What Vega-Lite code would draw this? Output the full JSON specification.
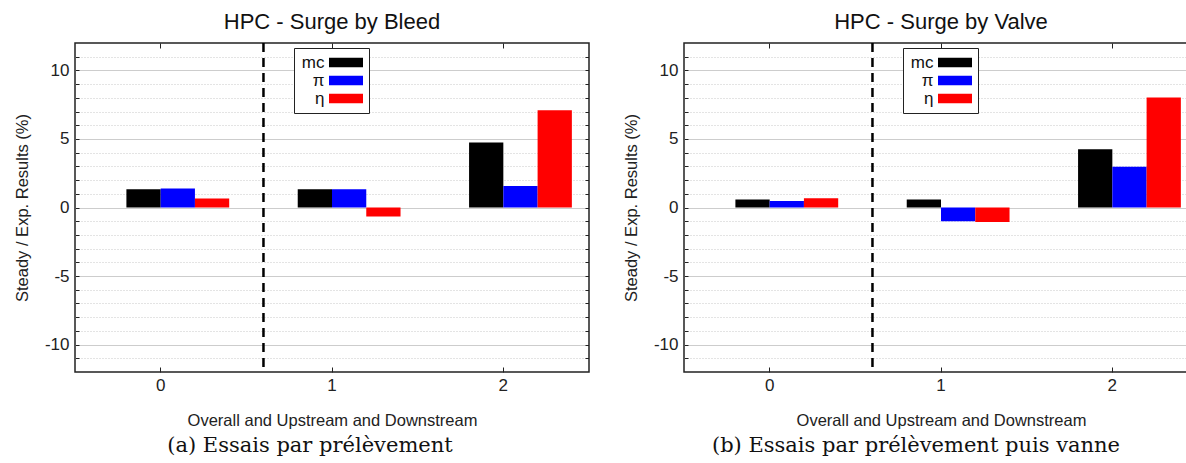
{
  "$schema": "https://vega.github.io/schema/vega-lite/v6.json",
  "padding": {"left": 13, "top": 10, "right": 0, "bottom": 0},
  "background": "white",
  "datasets": {
    "bleed": [
      {"group": "0", "series": "mc", "value": 1.34},
      {"group": "0", "series": "π", "value": 1.39},
      {"group": "0", "series": "η", "value": 0.65},
      {"group": "1", "series": "mc", "value": 1.34},
      {"group": "1", "series": "π", "value": 1.34},
      {"group": "1", "series": "η", "value": -0.65},
      {"group": "2", "series": "mc", "value": 4.75},
      {"group": "2", "series": "π", "value": 1.57},
      {"group": "2", "series": "η", "value": 7.1}
    ],
    "valve": [
      {"group": "0", "series": "mc", "value": 0.58},
      {"group": "0", "series": "π", "value": 0.48},
      {"group": "0", "series": "η", "value": 0.68},
      {"group": "1", "series": "mc", "value": 0.58},
      {"group": "1", "series": "π", "value": -1.0},
      {"group": "1", "series": "η", "value": -1.05},
      {"group": "2", "series": "mc", "value": 4.25},
      {"group": "2", "series": "π", "value": 2.97},
      {"group": "2", "series": "η", "value": 8.03}
    ],
    "sep": [{"sep": 0.6}]
  },
  "hconcat": [
    {
      "title": {"text": "(a) Essais par prélèvement", "orient": "bottom", "font": "DejaVu Serif", "fontSize": 21, "fontWeight": "normal", "offset": 6, "anchor": "middle", "dx": 8, "color": "#111"},
      "vconcat": [
        {
          "title": {"text": "HPC - Surge by Bleed", "fontSize": 22, "fontWeight": "normal", "offset": 8, "color": "#111"},
          "width": 514,
          "height": 329,
          "data": {"name": "bleed"},
          "layer": [
            {
              "mark": {"type": "bar", "opacity": 1},
              "encoding": {
                "x": {"field": "group", "type": "ordinal", "scale": {"domain": ["0", "1", "2"], "paddingInner": 0, "paddingOuter": 0},
                  "axis": {"orient": "bottom", "labelAngle": 0, "tickSize": -5, "tickColor": "#222", "domain": false, "grid": false, "labelFontSize": 17, "labelColor": "#222", "labelPadding": 10, "title": "Overall and Upstream and Downstream", "titleFontSize": 16.5, "titleFontWeight": "normal", "titleColor": "#222", "titlePadding": 19}},
                "xOffset": {"field": "series", "type": "nominal", "scale": {"domain": ["mc", "π", "η"], "range": [51.4, 154.2], "paddingInner": 0, "paddingOuter": 0}},
                "y": {"field": "value", "type": "quantitative", "scale": {"domain": [-12, 12], "nice": false},
                  "axis": {"values": [-11, -10, -9, -8, -7, -6, -5, -4, -3, -2, -1, 0, 1, 2, 3, 4, 5, 6, 7, 8, 9, 10, 11],
                    "labelExpr": "datum.value % 5 === 0 ? '' + datum.value : ''",
                    "grid": true,
                    "gridColor": {"condition": {"test": "datum.value % 5 === 0", "value": "#bdbdbd"}, "value": "#c8c8c8"},
                    "gridDash": {"condition": {"test": "datum.value % 5 === 0", "value": [1, 0]}, "value": [1, 2]},
                    "tickSize": -4, "tickColor": "#222", "domain": false, "labelFontSize": 17, "labelColor": "#222", "labelPadding": 10,
                    "title": "Steady / Exp. Results (%)", "titleFontSize": 16.5, "titleFontWeight": "normal", "titleColor": "#222", "titlePadding": 14}},
                "color": {"field": "series", "type": "nominal", "scale": {"domain": ["mc", "π", "η"], "range": ["#000000", "#0000ff", "#ff0000"]},
                  "legend": {"orient": "none", "legendX": 219, "legendY": 5, "title": null, "symbolType": "M-2,-0.55H2V0.55H-2Z", "symbolSize": 289, "symbolStrokeWidth": 0, "symbolOpacity": 1, "labelAlign": "right", "labelOffset": -30, "symbolOffset": 37.5, "labelFontSize": 17, "labelColor": "#111", "strokeColor": "#222", "fillColor": "white", "padding": 6, "rowPadding": 0, "cornerRadius": 0}}
              }
            },
            {
              "mark": {"type": "bar", "opacity": 0},
              "encoding": {
                "x": {"field": "group", "type": "ordinal", "scale": {"domain": ["0", "1", "2"], "paddingInner": 0, "paddingOuter": 0},
                  "axis": {"orient": "top", "labels": false, "tickSize": -5, "tickColor": "#222", "domain": false, "grid": false, "title": null}},
                "xOffset": {"field": "series", "type": "nominal", "scale": {"domain": ["mc", "π", "η"], "range": [51.4, 154.2], "paddingInner": 0, "paddingOuter": 0}},
                "y": {"field": "value", "type": "quantitative",
                  "axis": {"orient": "right", "values": [-11, -10, -9, -8, -7, -6, -5, -4, -3, -2, -1, 0, 1, 2, 3, 4, 5, 6, 7, 8, 9, 10, 11], "labels": false, "grid": false, "domain": false, "tickSize": -4, "tickColor": "#222", "title": null}}
              }
            },
            {
              "data": {"name": "sep"},
              "mark": {"type": "rule", "strokeDash": [9, 6], "strokeWidth": 2.5, "color": "#000000"},
              "encoding": {"x": {"field": "sep", "type": "quantitative", "scale": {"domain": [-0.5, 2.5], "nice": false, "zero": false}, "axis": null}}
            }
          ],
          "resolve": {"scale": {"x": "independent"}, "axis": {"x": "independent", "y": "independent"}}
        }
      ]
    },
    {
      "title": {"text": "(b) Essais par prélèvement puis vanne", "orient": "bottom", "font": "DejaVu Serif", "fontSize": 21, "fontWeight": "normal", "offset": 6, "anchor": "middle", "dx": 5, "color": "#111"},
      "vconcat": [
        {
          "title": {"text": "HPC - Surge by Valve", "fontSize": 22, "fontWeight": "normal", "offset": 8, "color": "#111"},
          "width": 514,
          "height": 329,
          "data": {"name": "valve"},
          "layer": [
            {
              "mark": {"type": "bar", "opacity": 1},
              "encoding": {
                "x": {"field": "group", "type": "ordinal", "scale": {"domain": ["0", "1", "2"], "paddingInner": 0, "paddingOuter": 0},
                  "axis": {"orient": "bottom", "labelAngle": 0, "tickSize": -5, "tickColor": "#222", "domain": false, "grid": false, "labelFontSize": 17, "labelColor": "#222", "labelPadding": 10, "title": "Overall and Upstream and Downstream", "titleFontSize": 16.5, "titleFontWeight": "normal", "titleColor": "#222", "titlePadding": 19}},
                "xOffset": {"field": "series", "type": "nominal", "scale": {"domain": ["mc", "π", "η"], "range": [51.4, 154.2], "paddingInner": 0, "paddingOuter": 0}},
                "y": {"field": "value", "type": "quantitative", "scale": {"domain": [-12, 12], "nice": false},
                  "axis": {"values": [-11, -10, -9, -8, -7, -6, -5, -4, -3, -2, -1, 0, 1, 2, 3, 4, 5, 6, 7, 8, 9, 10, 11],
                    "labelExpr": "datum.value % 5 === 0 ? '' + datum.value : ''",
                    "grid": true,
                    "gridColor": {"condition": {"test": "datum.value % 5 === 0", "value": "#bdbdbd"}, "value": "#c8c8c8"},
                    "gridDash": {"condition": {"test": "datum.value % 5 === 0", "value": [1, 0]}, "value": [1, 2]},
                    "tickSize": -4, "tickColor": "#222", "domain": false, "labelFontSize": 17, "labelColor": "#222", "labelPadding": 10,
                    "title": "Steady / Exp. Results (%)", "titleFontSize": 16.5, "titleFontWeight": "normal", "titleColor": "#222", "titlePadding": 14}},
                "color": {"field": "series", "type": "nominal", "scale": {"domain": ["mc", "π", "η"], "range": ["#000000", "#0000ff", "#ff0000"]},
                  "legend": {"orient": "none", "legendX": 219, "legendY": 5, "title": null, "symbolType": "M-2,-0.55H2V0.55H-2Z", "symbolSize": 289, "symbolStrokeWidth": 0, "symbolOpacity": 1, "labelAlign": "right", "labelOffset": -30, "symbolOffset": 37.5, "labelFontSize": 17, "labelColor": "#111", "strokeColor": "#222", "fillColor": "white", "padding": 6, "rowPadding": 0, "cornerRadius": 0}}
              }
            },
            {
              "mark": {"type": "bar", "opacity": 0},
              "encoding": {
                "x": {"field": "group", "type": "ordinal", "scale": {"domain": ["0", "1", "2"], "paddingInner": 0, "paddingOuter": 0},
                  "axis": {"orient": "top", "labels": false, "tickSize": -5, "tickColor": "#222", "domain": false, "grid": false, "title": null}},
                "xOffset": {"field": "series", "type": "nominal", "scale": {"domain": ["mc", "π", "η"], "range": [51.4, 154.2], "paddingInner": 0, "paddingOuter": 0}},
                "y": {"field": "value", "type": "quantitative",
                  "axis": {"orient": "right", "values": [-11, -10, -9, -8, -7, -6, -5, -4, -3, -2, -1, 0, 1, 2, 3, 4, 5, 6, 7, 8, 9, 10, 11], "labels": false, "grid": false, "domain": false, "tickSize": -4, "tickColor": "#222", "title": null}}
              }
            },
            {
              "data": {"name": "sep"},
              "mark": {"type": "rule", "strokeDash": [9, 6], "strokeWidth": 2.5, "color": "#000000"},
              "encoding": {"x": {"field": "sep", "type": "quantitative", "scale": {"domain": [-0.5, 2.5], "nice": false, "zero": false}, "axis": null}}
            }
          ],
          "resolve": {"scale": {"x": "independent"}, "axis": {"x": "independent", "y": "independent"}}
        }
      ]
    }
  ],
  "spacing": 31,
  "resolve": {"scale": {"color": "independent"}, "legend": {"color": "independent"}},
  "config": {
    "font": "Liberation Sans",
    "view": {"stroke": "#222", "strokeWidth": 1.5},
    "concat": {"spacing": 31}
  }
}
